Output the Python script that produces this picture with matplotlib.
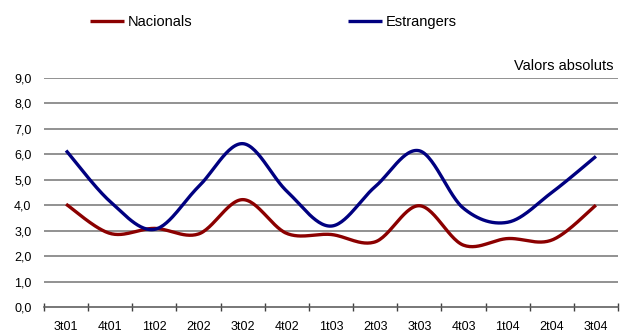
import numpy as np
import matplotlib
matplotlib.use('Agg')
import matplotlib.pyplot as plt

plt.rcParams['font.family'] = ['Liberation Sans', 'DejaVu Sans']

quarters = ['3t01', '4t01', '1t02', '2t02', '3t02', '4t02', '1t03',
            '2t03', '3t03', '4t03', '1t04', '2t04', '3t04']
nacionals = [4.04, 2.89, 3.09, 2.87, 4.22, 2.89, 2.85, 2.56, 3.98, 2.43, 2.69, 2.63, 4.0]
estrangers = [6.15, 4.14, 3.05, 4.73, 6.42, 4.55, 3.18, 4.73, 6.14, 3.88, 3.33, 4.5, 5.92]


def smooth(y, n=30):
    # excel-style smoothed line (catmull-rom as bezier)
    y = np.asarray(y, dtype=float)
    x = np.arange(len(y), dtype=float)
    px, py = [], []
    for i in range(len(y) - 1):
        i0, i3 = max(i - 1, 0), min(i + 2, len(y) - 1)
        t = np.linspace(0, 1, n)
        for arr, out in ((x, px), (y, py)):
            p0, p1, p2, p3 = arr[i0], arr[i], arr[i + 1], arr[i3]
            c1 = p1 + (p2 - p0) / 6
            c2 = p2 - (p3 - p1) / 6
            out.extend((1 - t) ** 3 * p1 + 3 * (1 - t) ** 2 * t * c1
                       + 3 * (1 - t) * t ** 2 * c2 + t ** 3 * p2)
    return px, py


fig = plt.figure(figsize=(6.27, 3.34), dpi=100)
ax = fig.add_axes([44 / 627, 1 - 307 / 334, 574 / 627, 229 / 334])

for yv in np.arange(1, 10):
    ax.axhline(yv, color='#7f7f7f', linewidth=1.2, zorder=1)

l1, = ax.plot(*smooth(nacionals), color='#8b0000', linewidth=2.4, zorder=3,
              solid_capstyle='butt')
l2, = ax.plot(*smooth(estrangers), color='#000080', linewidth=2.4, zorder=3,
              solid_capstyle='butt')

ax.set_xlim(-0.5, len(quarters) - 0.5)
ax.set_ylim(0, 9)
ax.set_yticks(np.arange(0, 10))
ax.set_yticklabels([f'{v:.1f}'.replace('.', ',') for v in np.arange(0, 10)])
ax.set_xticks(np.arange(len(quarters)))
ax.set_xticklabels(quarters)
ax.set_xticks(np.arange(-0.5, len(quarters)), minor=True)
ax.tick_params(axis='x', which='major', length=0, pad=10, labelsize=9)
ax.tick_params(axis='x', which='minor', length=6, direction='inout',
               color='#404040', width=1)
ax.tick_params(axis='y', length=0, pad=9, labelsize=9)

for s in ['top', 'right', 'left']:
    ax.spines[s].set_visible(False)
ax.spines['bottom'].set_color('#606060')
ax.spines['bottom'].set_linewidth(1.2)

fig.text(613 / 627, 1 - 66 / 334, 'Valors absoluts', ha='right', va='center',
         fontsize=10.5)

fig.legend([l1, l2], ['Nacionals', 'Estrangers'], loc='center left',
           bbox_to_anchor=(90 / 627, 1 - 22 / 334), ncol=2, frameon=False,
           fontsize=10.5, handlelength=2.3, handletextpad=0.27,
           columnspacing=10.7, borderpad=0, borderaxespad=0)

fig.savefig('out.png', dpi=100)
